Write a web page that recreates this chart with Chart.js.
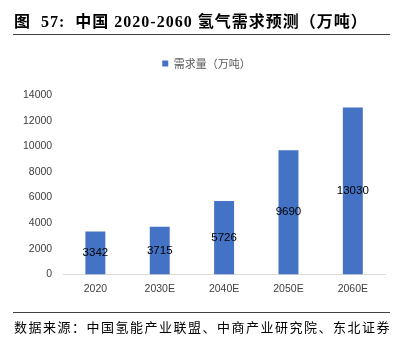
<!DOCTYPE html>
<html>
<head>
<meta charset="utf-8">
<script src="https://cdn.jsdelivr.net/npm/chart.js@4"></script>
<style>
  html, body { margin: 0; padding: 0; background: #fff; }
  #wrap { position: relative; width: 395px; height: 341px; overflow: hidden; }
  #chart { position: absolute; left: 0; top: 0; }
  .title {
    position: absolute; left: 14px; top: 8px; width: 380px;
    font: bold 16px "Liberation Serif", "Noto Sans CJK SC", serif;
    letter-spacing: 1px;
    color: #000; white-space: nowrap;
  }
  .rule { position: absolute; left: 13px; width: 377px; height: 1px; background: #404040; }
  .note {
    position: absolute; left: 14px; top: 317px;
    font: 13px "Liberation Serif", "Noto Sans CJK SC", serif;
    letter-spacing: 1.5px;
    color: #000; white-space: nowrap;
  }
</style>
</head>
<body>
<div id="wrap">
  <canvas id="chart" width="395" height="341"></canvas>
  <div class="title">图&nbsp; 57:&nbsp; 中国 2020-2060 氢气需求预测（万吨）</div>
  <div class="rule" style="top:34px"></div>
  <div class="rule" style="top:312px"></div>
  <div class="note">数据来源：中国氢能产业联盟、中商产业研究院、东北证券</div>
</div>
<script>
// data
const years = ["2020", "2030E", "2040E", "2050E", "2060E"];
const demand = [3342, 3715, 5726, 9690, 13030];
const seriesName = "需求量（万吨）";
const yMax = 14000;
const yStep = 2000;

// bar value written in the middle of each bar
const midLabels = {
  id: "midLabels",
  afterDatasetsDraw(chart) {
    const ctx = chart.ctx;
    const meta = chart.getDatasetMeta(0);
    ctx.save();
    ctx.font = "11.5px 'Liberation Sans', sans-serif";
    ctx.fillStyle = "#000";
    ctx.textAlign = "center";
    ctx.textBaseline = "middle";
    meta.data.forEach((bar, i) => {
      const y = (bar.y + bar.base) / 2;
      ctx.fillText(String(demand[i]), bar.x, y);
    });
    ctx.restore();
  }
};

// extra room under the legend, and nudge it a little right
const legendGap = {
  id: "legendGap",
  beforeInit(chart) {
    const fit = chart.legend.fit;
    chart.legend.fit = function () {
      fit.bind(chart.legend)();
      this.height += 16;
    };
  },
  afterLayout(chart) {
    chart.legend.left += 8;
    chart.legend.right += 8;
  }
};

const tickFont = { size: 10.5, family: "'Liberation Sans', sans-serif" };

new Chart(document.getElementById("chart"), {
  type: "bar",
  data: {
    labels: years,
    datasets: [{
      label: seriesName,
      data: demand,
      backgroundColor: "#4472C4",
      borderWidth: 0,
      categoryPercentage: 1,
      barPercentage: 0.31
    }]
  },
  options: {
    responsive: false,
    animation: false,
    layout: { padding: { left: 12, right: 10, top: 48, bottom: 38 } },
    plugins: {
      legend: {
        position: "top",
        labels: {
          boxWidth: 6, boxHeight: 6, padding: 10,
          color: "#595959",
          font: { size: 11, family: "'Noto Sans CJK SC', sans-serif" }
        }
      },
      tooltip: { enabled: false }
    },
    scales: {
      x: {
        grid: { display: false, drawTicks: false },
        border: { color: "#d9d9d9", width: 1 },
        ticks: { color: "#404040", padding: 8, font: tickFont }
      },
      y: {
        min: 0, max: yMax,
        grid: { display: false, drawTicks: false },
        border: { display: false },
        ticks: {
          stepSize: yStep, color: "#404040", padding: 11,
          font: tickFont,
          callback: (v) => String(v)
        }
      }
    }
  },
  plugins: [midLabels, legendGap]
});
</script>
</body>
</html>
